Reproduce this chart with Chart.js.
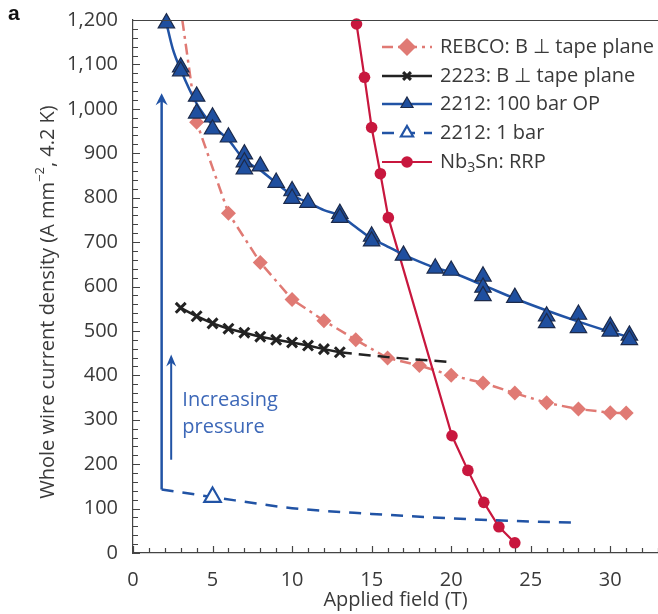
<!DOCTYPE html>
<html>
<head>
<meta charset="utf-8">
<script src="https://cdn.jsdelivr.net/npm/chart.js@4/dist/chart.umd.min.js"></script>
<style>
  html, body { margin: 0; padding: 0; background: #fff; }
</style>
</head>
<body>
<canvas id="chart" width="658" height="614"></canvas>
<script>
// Whole-wire Je at 4.2 K versus applied field
const rebcoField = [3.1, 4, 6, 8, 10, 12, 14, 16, 18, 20, 22, 24, 26, 28, 30, 31];
const rebcoJe = [1200, 970, 765, 654, 571, 523, 480, 439, 422, 400, 383, 360, 338, 324, 316, 315];

const bscco2223Field = [3, 4, 5, 6, 7, 8, 9, 10, 11, 12, 13];
const bscco2223Je = [552, 533, 517, 505, 496, 487, 480, 474, 467, 459, 452];
const bscco2223ExtField = [13, 16, 18, 20];
const bscco2223ExtJe = [452, 441, 435, 430];

const opField = [2.1, 3, 3, 4, 4, 5, 5, 6, 7, 7, 7, 8, 9, 10, 10, 11, 13, 13, 15, 15, 17, 19, 20, 22, 22, 22, 24, 26, 26, 28, 28, 30, 30, 31.2, 31.2];
const opJe = [1193, 1094, 1085, 1028, 990, 981, 954, 936, 898, 880, 864, 871, 834, 815, 798, 789, 764, 755, 713, 702, 670, 641, 636, 623, 598, 579, 575, 533, 518, 537, 507, 510, 499, 490, 480];
const opFitField = [2.1, 2.5, 3, 4, 5, 6, 7, 8, 9, 10, 11, 12, 13, 14, 15, 16, 17, 18, 19, 20, 22, 24, 26, 28, 30, 31.2];
const opFitJe = [1193, 1135, 1088, 1012, 963, 930, 885, 862, 833, 806, 789, 772, 760, 734, 708, 690, 672, 656, 642, 632, 603, 573, 546, 521, 498, 486];

const oneBarField = [5];
const oneBarJe = [126];
const oneBarFitField = [1.8, 5, 10, 15, 20, 25, 28];
const oneBarFitJe = [143, 126, 101, 88, 78, 71, 68];

const nb3snField = [14.05, 14.55, 15.0, 15.55, 16.05, 20.05, 21.05, 22.05, 23.0, 24.0];
const nb3snJe = [1191, 1071, 958, 854, 755, 264, 186, 114, 59, 23];

const legendLabels = ['REBCO: B \u22A5 tape plane', '2223: B \u22A5 tape plane', '2212: 100 bar OP', '2212: 1 bar', 'Nb|3|Sn: RRP'];
const xTicks = [0, 5, 10, 15, 20, 25, 30];
const yTicks = [0, 100, 200, 300, 400, 500, 600, 700, 800, 900, 1000, 1100, 1200];
const xMax = 33;

const FONT = '"Open Sans", "Noto Sans", sans-serif';
const TEXT = '#3a3a3a';
const C_REBCO = '#e07a74';
const C_2223 = '#222222';
const C_2212 = '#2153a5';
const C_NB = '#c8173e';

const pts = (xs, ys) => xs.map((x, i) => ({ x: x, y: ys[i] }));

// extras: inward ticks, top frame line, arrows, notes, legend, y title
const extras = {
  id: 'extras',
  beforeDatasetsDraw(chart) {
    const ctx = chart.ctx;
    const xs = chart.scales.x, ys = chart.scales.y;
    const arrow = (fx, j0, j1, w, lw) => {
      const x = xs.getPixelForValue(fx);
      const y0 = ys.getPixelForValue(j0), y1 = ys.getPixelForValue(j1);
      ctx.save();
      ctx.strokeStyle = C_2212;
      ctx.fillStyle = C_2212;
      ctx.lineWidth = lw;
      ctx.beginPath();
      ctx.moveTo(x, y0);
      ctx.lineTo(x, y1 + 4);
      ctx.stroke();
      ctx.beginPath();
      ctx.moveTo(x, y1);
      ctx.lineTo(x - w, y1 + 12);
      ctx.lineTo(x, y1 + 8);
      ctx.lineTo(x + w, y1 + 12);
      ctx.closePath();
      ctx.fill();
      ctx.restore();
    };
    arrow(1.8, 143, 1035, 6, 2.5);
    arrow(2.4, 210, 447, 5, 2);

    ctx.save();
    ctx.fillStyle = '#3d68b8';
    ctx.font = '20px ' + FONT;
    ctx.textBaseline = 'alphabetic';
    const tx = xs.getPixelForValue(3.1);
    ctx.fillText('Increasing', tx, ys.getPixelForValue(332));
    ctx.fillText('pressure', tx, ys.getPixelForValue(271));
    ctx.restore();
  },
  afterDraw(chart) {
    const ctx = chart.ctx;
    const a = chart.chartArea;
    const xs = chart.scales.x, ys = chart.scales.y;
    ctx.save();
    ctx.strokeStyle = '#444';
    ctx.lineWidth = 1.2;
    // top frame
    ctx.beginPath();
    ctx.moveTo(a.left, a.top + 0.5);
    ctx.lineTo(a.right, a.top + 0.5);
    ctx.stroke();
    // inward ticks
    ctx.beginPath();
    for (let v = 0; v <= 1200; v += 20) {
      const y = Math.round(ys.getPixelForValue(v)) + 0.5;
      const len = v % 100 === 0 ? 7 : 5;
      ctx.moveTo(a.left, y);
      ctx.lineTo(a.left + len, y);
    }
    for (let f = 0; f <= xMax; f += 1) {
      const x = Math.round(xs.getPixelForValue(f)) + 0.5;
      const len = f % 5 === 0 ? 7 : 5;
      ctx.moveTo(x, a.bottom);
      ctx.lineTo(x, a.bottom - len);
    }
    ctx.stroke();
    ctx.restore();

    // legend
    const rows = [
      { line: 0, mark: 0 },
      { line: 1, mark: 1 },
      { line: 4, mark: 3 },
      { line: 6, mark: 5 },
      { line: 7, mark: 7 }
    ];
    const lx0 = 382, lx1 = 432, mx = 407, tx = 440;
    const rowY = [47, 76, 104, 133, 162];
    rows.forEach((r, i) => {
      const ld = chart.data.datasets[r.line];
      const md = chart.data.datasets[r.mark];
      const y = rowY[i];
      ctx.save();
      ctx.strokeStyle = ld.borderColor;
      ctx.lineWidth = ld.borderWidth;
      ctx.setLineDash(ld.borderDash || []);
      ctx.beginPath();
      ctx.moveTo(lx0, y);
      ctx.lineTo(lx1, y);
      ctx.stroke();
      ctx.setLineDash([]);
      ctx.fillStyle = md.pointBackgroundColor;
      ctx.strokeStyle = md.pointBorderColor;
      ctx.lineWidth = md.pointBorderWidth;
      Chart.helpers.drawPoint(ctx, {
        pointStyle: md.pointStyle,
        radius: md.legendRadius,
        rotation: 0,
        borderWidth: md.pointBorderWidth
      }, mx, y);
      ctx.restore();

      ctx.save();
      ctx.fillStyle = TEXT;
      ctx.textBaseline = 'middle';
      const parts = legendLabels[i].split('|');
      let x = tx;
      parts.forEach((p, k) => {
        if (k % 2 === 1) {
          ctx.font = '14px ' + FONT;
          ctx.fillText(p, x, y + 6);
        } else {
          ctx.font = '20px ' + FONT;
          ctx.fillText(p, x, y);
        }
        x += ctx.measureText(p).width;
      });
      ctx.restore();
    });

    // y axis title with superscript
    ctx.save();
    ctx.translate(48, 302);
    ctx.rotate(-Math.PI / 2);
    ctx.fillStyle = TEXT;
    ctx.textBaseline = 'middle';
    const segs = [['Whole wire current density (A mm', 20, 0], ['\u22122', 13, -8], [', 4.2 K)', 20, 0]];
    let total = 0;
    segs.forEach(s => { ctx.font = s[1] + 'px ' + FONT; total += ctx.measureText(s[0]).width; });
    let x = -total / 2;
    segs.forEach(s => {
      ctx.font = s[1] + 'px ' + FONT;
      ctx.fillText(s[0], x, s[2]);
      x += ctx.measureText(s[0]).width;
    });
    ctx.restore();

    // panel letter
    ctx.save();
    ctx.fillStyle = '#111';
    ctx.font = 'bold 21px "Liberation Sans", Arial, sans-serif';
    ctx.textBaseline = 'alphabetic';
    ctx.fillText('a', 8, 20);
    ctx.restore();
  }
};

const chart = new Chart(document.getElementById('chart'), {
  type: 'scatter',
  data: {
    datasets: [
      {
        label: 'REBCO', data: pts(rebcoField, rebcoJe), showLine: true,
        borderColor: C_REBCO, borderWidth: 2.5, borderDash: [11, 5, 3, 5],
        pointStyle: 'rectRot', pointRadius: c => (c.dataIndex === 0 ? 0 : 7.5), legendRadius: 9,
        pointBackgroundColor: C_REBCO, pointBorderColor: C_REBCO, pointBorderWidth: 0,
        pointHoverRadius: 0, order: 6
      },
      {
        label: '2223', data: pts(bscco2223Field, bscco2223Je), showLine: true,
        borderColor: C_2223, borderWidth: 2.5,
        pointStyle: 'crossRot', pointRadius: 7, legendRadius: 5.5,
        pointBackgroundColor: C_2223, pointBorderColor: C_2223, pointBorderWidth: 3,
        order: 5
      },
      {
        label: '2223 ext', data: pts(bscco2223ExtField, bscco2223ExtJe), showLine: true,
        borderColor: C_2223, borderWidth: 2.5, borderDash: [12, 7], pointRadius: 0,
        order: 5
      },
      {
        label: '2212 OP', data: pts(opField, opJe), showLine: false,
        pointStyle: 'triangle', pointRadius: 9.5, legendRadius: 7,
        pointBackgroundColor: '#1f4f9f', pointBorderColor: '#1c2a4a', pointBorderWidth: 1.2,
        clip: false, order: 0
      },
      {
        label: '2212 OP fit', data: pts(opFitField, opFitJe), showLine: true,
        borderColor: C_2212, borderWidth: 2.5, pointRadius: 0,
        cubicInterpolationMode: 'monotone', order: 1
      },
      {
        label: '2212 1 bar', data: pts(oneBarField, oneBarJe), showLine: false,
        pointStyle: 'triangle', pointRadius: 9.5, legendRadius: 7,
        pointBackgroundColor: '#ffffff', pointBorderColor: C_2212, pointBorderWidth: 2.2,
        order: 2
      },
      {
        label: '2212 1 bar fit', data: pts(oneBarFitField, oneBarFitJe), showLine: true,
        borderColor: C_2212, borderWidth: 2.5, borderDash: [12, 9], pointRadius: 0,
        cubicInterpolationMode: 'monotone', order: 3
      },
      {
        label: 'Nb3Sn', data: pts(nb3snField, nb3snJe), showLine: true,
        borderColor: C_NB, borderWidth: 2.2,
        pointStyle: 'circle', pointRadius: 5.8, legendRadius: 5.8,
        pointBackgroundColor: C_NB, pointBorderColor: C_NB, pointBorderWidth: 0,
        clip: false, order: 4
      }
    ]
  },
  options: {
    responsive: false,
    animation: false,
    events: [],
    layout: { autoPadding: false, padding: { top: 20, left: 0, right: 0, bottom: 0 } },
    plugins: { legend: { display: false }, tooltip: { enabled: false } },
    scales: {
      x: {
        type: 'linear', min: 0, max: xMax,
        grid: { display: false },
        border: { display: true, color: '#444', width: 1.2 },
        afterBuildTicks: s => { s.ticks = xTicks.map(v => ({ value: v })); },
        ticks: { color: TEXT, font: { family: FONT, size: 20 }, padding: 7, maxRotation: 0 },
        title: { display: true, text: 'Applied field (T)', color: TEXT, font: { family: FONT, size: 20 }, padding: { top: 0, bottom: 2 } },
        afterFit: s => { s.height = 61; s.paddingLeft = 0; s.paddingRight = 0; }
      },
      y: {
        type: 'linear', min: 0, max: 1200,
        grid: { display: false },
        border: { display: true, color: '#444', width: 1.2 },
        afterBuildTicks: s => { s.ticks = yTicks.map(v => ({ value: v })); },
        ticks: {
          color: TEXT, font: { family: FONT, size: 20 }, padding: 7,
          callback: v => v.toLocaleString('en-US')
        },
        afterFit: s => { s.width = 133; s.paddingTop = 0; s.paddingBottom = 0; }
      }
    }
  },
  plugins: [extras]
});
</script>
</body>
</html>
